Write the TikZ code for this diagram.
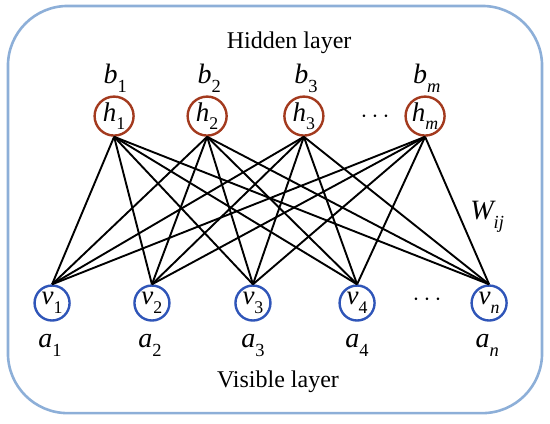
\documentclass[tikz,border=0pt]{standalone}
\usepackage{fontspec}
\setmainfont{Liberation Serif}
\definecolor{hidred}{RGB}{163,58,30}
\definecolor{visblue}{RGB}{47,85,184}
\definecolor{frameblue}{RGB}{141,175,216}
\newcommand{\iv}[2]{{\itshape #1}\raisebox{-0.32em}{\scalebox{0.66}{#2}}}
\tikzset{
  hidunit/.style={circle,draw=hidred,line width=2.4pt,minimum size=39pt,inner sep=0pt,
    font=\fontsize{27}{30}\selectfont},
  visunit/.style={circle,draw=visblue,line width=2.4pt,minimum size=35pt,inner sep=0pt,
    font=\fontsize{27}{30}\selectfont},
  biaslabel/.style={font=\fontsize{28}{32}\selectfont},
  weight/.style={line width=1.9pt}
}
\begin{document}
\begin{tikzpicture}[font=\fontsize{24}{28}\selectfont]
    \useasboundingbox (0,0) rectangle (19.33,14.87);
    % Frame
    \draw[frameblue,line width=2.6pt,rounded corners=2.1cm] (0.28,0.35) rectangle (19.05,14.66);
    \node (hlayer) at (10.16,13.36) {Hidden layer};
    \node (vlayer) at (9.77,1.44) {Visible layer};
    % Hidden units with biases
    \node[hidunit] (h1) at (4.01,10.79) {\iv{h}{1}};
    \node[hidunit] (h2) at (7.28,10.79) {\iv{h}{2}};
    \node[hidunit] (h3) at (10.68,10.79) {\iv{h}{3}};
    \node (hdots) at (13.18,10.75) {$\cdots$};
    \node[hidunit] (hm) at (14.94,10.79) {\iv{h}{\itshape m}};
    \node[biaslabel] (b1) at (4.05,12.13) {\iv{b}{1}};
    \node[biaslabel] (b2) at (7.35,12.13) {\iv{b}{2}};
    \node[biaslabel] (b3) at (10.75,12.13) {\iv{b}{3}};
    \node[biaslabel] (bm) at (15.0,12.13) {\iv{b}{\itshape m}};
    % Visible units with biases
    \node[visunit] (v1) at (1.83,4.22) {\iv{v}{1}};
    \node[visunit] (v2) at (5.34,4.22) {\iv{v}{2}};
    \node[visunit] (v3) at (8.89,4.22) {\iv{v}{3}};
    \node[visunit] (v4) at (12.55,4.22) {\iv{v}{4}};
    \node (vdots) at (15.01,4.32) {$\cdots$};
    \node[visunit] (vn) at (17.19,4.22) {\iv{v}{\itshape n}};
    \node[biaslabel] (a1) at (1.76,2.74) {\iv{a}{1}};
    \node[biaslabel] (a2) at (5.27,2.74) {\iv{a}{2}};
    \node[biaslabel] (a3) at (8.89,2.74) {\iv{a}{3}};
    \node[biaslabel] (a4) at (12.55,2.74) {\iv{a}{4}};
    \node[biaslabel] (an) at (17.12,2.74) {\iv{a}{\itshape n}};
    % Weights
    \foreach \h in {h1,h2,h3,hm}
        \foreach \v in {v1,v2,v3,v4,vn}
            \draw[weight] (\h.south) -- (\v.north);
    \node[biaslabel] (wij) at (17.12,7.24) {\iv{W}{\itshape ij}};
\end{tikzpicture}
\end{document}
